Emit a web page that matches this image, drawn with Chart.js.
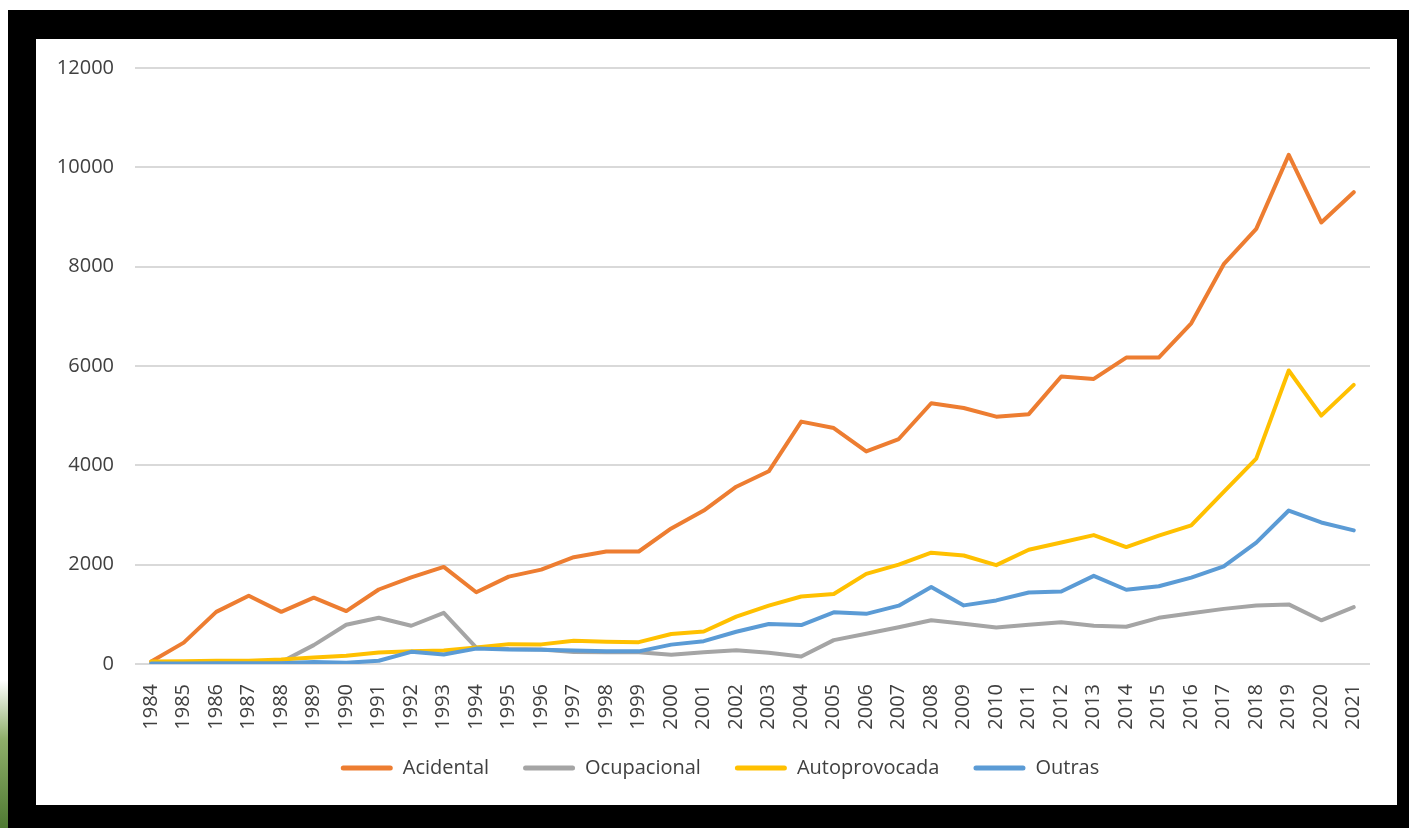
<!DOCTYPE html>
<html>
<head>
<meta charset="utf-8">
<script src="https://cdn.jsdelivr.net/npm/chart.js@4/dist/chart.umd.min.js"></script>
<style>
  html, body { margin: 0; padding: 0; background: #fff; width: 1409px; height: 828px; overflow: hidden; }
  #frame { position: absolute; left: 8px; top: 10px; right: 0; bottom: 0; background: #000; }
  #leaf { position: absolute; left: 0; top: 680px; width: 9px; height: 148px;
          background: linear-gradient(#ffffff, #8fae6a 40%, #4f7a32); }
  #box { position: absolute; left: 36px; top: 39px; width: 1361px; height: 766px; background: #fff; }
  #chart { position: absolute; left: 0; top: -4px; }
</style>
</head>
<body>
<div id="leaf"></div>
<div id="frame"></div>
<div id="box"><canvas id="chart" width="1361" height="770"></canvas></div>
<script>
/* ---- data ---- */
const YEARS = ["1984", "1985", "1986", "1987", "1988", "1989", "1990", "1991", "1992", "1993",
  "1994", "1995", "1996", "1997", "1998", "1999", "2000", "2001", "2002", "2003",
  "2004", "2005", "2006", "2007", "2008", "2009", "2010", "2011", "2012", "2013",
  "2014", "2015", "2016", "2017", "2018", "2019", "2020", "2021"];

const ACIDENTAL = [50, 430, 1050, 1375, 1050, 1335, 1065, 1500, 1745, 1955,
  1445, 1760, 1900, 2150, 2265, 2265, 2730, 3090, 3570, 3880,
  4880, 4750, 4280, 4530, 5250, 5155, 4980, 5030, 5790, 5740,
  6170, 6170, 6860, 8050, 8760, 10250, 8890, 9500];

const OCUPACIONAL = [30, 30, 40, 40, 40, 380, 790, 930, 770, 1030,
  330, 300, 290, 240, 235, 235, 185, 235, 275, 225,
  150, 480, 610, 740, 880, 810, 735, 790, 840, 770,
  750, 930, 1020, 1110, 1180, 1200, 880, 1145];

const AUTOPROVOCADA = [50, 55, 65, 65, 90, 130, 165, 230, 255, 270,
  330, 400, 395, 470, 450, 440, 605, 655, 955, 1175,
  1360, 1410, 1815, 2000, 2240, 2185, 1990, 2300, 2445, 2595,
  2355, 2585, 2790, 3465, 4135, 5910, 5000, 5620];

const OUTRAS = [10, 10, 15, 15, 15, 40, 25, 65, 245, 190,
  310, 290, 285, 270, 255, 255, 390, 460, 650, 805,
  785, 1040, 1010, 1175, 1550, 1180, 1280, 1440, 1460, 1775,
  1495, 1565, 1740, 1965, 2445, 3090, 2850, 2690];

const SERIES_NAMES = ["Acidental", "Ocupacional", "Autoprovocada", "Outras"];
const SERIES_COLORS = ["#ed7d31", "#a5a5a5", "#ffc000", "#5b9bd5"];

const Y_MIN = 0;
const Y_MAX = 12000;
const Y_STEP = 2000;

const TEXT_COLOR = "#404040";
const FONT = { family: "'Open Sans', sans-serif", size: 20 };

function lineDataset(index, values) {
  return {
    label: SERIES_NAMES[index],
    data: values,
    borderColor: SERIES_COLORS[index],
    backgroundColor: SERIES_COLORS[index],
    borderWidth: 4,
    pointRadius: 0,
    tension: 0,
    borderJoinStyle: "round",
    borderCapStyle: "round",
    // later series are painted over earlier ones, like the source chart
    order: SERIES_NAMES.length - index,
  };
}

// the legend in the source sits a bit right of centre and close under the year labels
const legendNudge = {
  id: "legendNudge",
  afterLayout(chart) {
    chart.legend.left += 17;
    chart.legend.right += 17;
    chart.legend.top -= 6;
    chart.legend.bottom -= 6;
  },
};

new Chart(document.getElementById("chart"), {
  type: "line",
  data: {
    labels: YEARS,
    datasets: [
      lineDataset(0, ACIDENTAL),
      lineDataset(1, OCUPACIONAL),
      lineDataset(2, AUTOPROVOCADA),
      lineDataset(3, OUTRAS),
    ],
  },
  plugins: [legendNudge],
  options: {
    responsive: false,
    animation: false,
    layout: { autoPadding: false, padding: { left: 0, right: 27, top: 24, bottom: 11 } },
    plugins: {
      tooltip: { enabled: false },
      legend: {
        position: "bottom",
        labels: {
          color: TEXT_COLOR,
          font: FONT,
          boxWidth: 52,
          boxHeight: 5,
          padding: 34,
          useBorderRadius: true,
          borderRadius: 2.5,
          sort: (a, b) => a.datasetIndex - b.datasetIndex,
          generateLabels: (chart) => Chart.defaults.plugins.legend.labels.generateLabels(chart)
            .map((item) => ({ ...item, lineWidth: 0 })),
        },
      },
    },
    scales: {
      x: {
        offset: true,
        grid: { display: false },
        border: { display: false },
        ticks: {
          color: TEXT_COLOR,
          font: FONT,
          autoSkip: false,
          minRotation: 90,
          maxRotation: 90,
          padding: 12,
        },
        afterFit: (scale) => { scale.height = 66; },
      },
      y: {
        min: Y_MIN,
        max: Y_MAX,
        border: { display: false },
        grid: { color: "#d9d9d9", lineWidth: 2, drawTicks: false },
        ticks: {
          stepSize: Y_STEP,
          color: TEXT_COLOR,
          font: FONT,
          padding: 21,
          callback: (value) => String(value),
        },
        afterFit: (scale) => { scale.width = 99; },
      },
    },
  },
});
</script>
</body>
</html>
